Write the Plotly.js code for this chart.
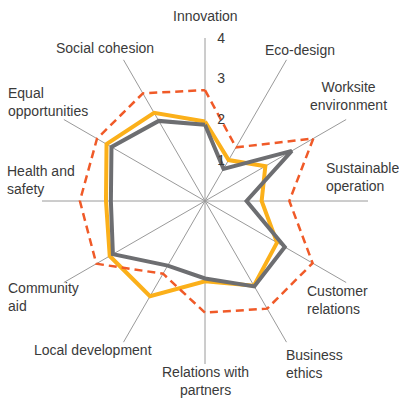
<!DOCTYPE html>
<html>
<head>
<meta charset="utf-8">
<script src="https://cdn.plot.ly/plotly-3.0.1.min.js"></script>
<style>html,body{margin:0;padding:0;background:#fff;}#chart{width:399px;height:399px;}</style>
</head>
<body>
<div id="chart"></div>
<script>
const categories = ["Innovation", "Eco-design", "Worksite environment", "Sustainable operation",
  "Customer relations", "Business ethics", "Relations with partners", "Local development",
  "Community aid", "Health and safety", "Equal opportunities", "Social cohesion"];
const labelText = ["Innovation", "Eco-design", "Worksite<br>environment", "Sustainable<br>operation",
  "Customer<br>relations", "Business<br>ethics", "Relations with<br>partners", "Local development",
  "Community<br>aid", "Health and<br>safety", "Equal<br>opportunities", "Social cohesion"];
const targetValues = [2.72, 1.52, 3.07, 2.07, 3.05, 3.05, 2.74, 2.06, 3.08, 3.07, 3.06, 3.05];
const orangeValues = [1.95, 1.16, 1.71, 1.39, 2.04, 2.40, 1.97, 2.70, 2.70, 2.43, 2.79, 2.50];
const grayValues   = [1.87, 0.91, 2.46, 1.02, 2.26, 2.42, 1.90, 1.83, 2.61, 2.31, 2.65, 2.27];
const radialTicks = [1, 2, 3, 4];

// category label placement in pixels (anchor point) and anchoring
const labelX = [205, 300, 348, 325, 306, 285, 205, 93, 7, 6, 7, 105];
const labelY = [16, 50, 96, 177, 300, 364, 381, 350, 297, 180, 102, 48];
const labelXAnchor = ["center", "center", "center", "left", "left", "left", "center", "center", "left", "left", "left", "center"];

function closed(a){ return a.concat([a[0]]); }

const W = 399, H = 399;
const fam = "'Liberation Sans', Arial, sans-serif";
const font = {family: fam, size: 14, color: "#3a3a3a"};

const traces = [
  {type: "scatterpolar", r: closed(orangeValues), theta: closed(categories), mode: "lines",
   line: {color: "#FBB01A", width: 4}, hoverinfo: "skip"},
  {type: "scatterpolar", r: closed(grayValues), theta: closed(categories), mode: "lines",
   line: {color: "#6D6E71", width: 4}, hoverinfo: "skip"},
  {type: "scatterpolar", r: closed(targetValues), theta: closed(categories), mode: "lines",
   line: {color: "#F05A28", width: 2.5, dash: "8px,5px"}, hoverinfo: "skip"}
];

const annotations = labelText.map((t, i) => ({
  text: t, xref: "paper", yref: "paper", x: labelX[i] / W, y: 1 - labelY[i] / H,
  xanchor: labelXAnchor[i], yanchor: "middle", align: labelXAnchor[i] === "left" ? "left" : "center",
  showarrow: false, font: font, borderpad: 0
}));

const layout = {
  width: W, height: H,
  margin: {l: 0, r: 0, t: 0, b: 0},
  paper_bgcolor: "#fff",
  showlegend: false,
  font: font,
  annotations: annotations,
  polar: {
    domain: {x: [42/W, 368/W], y: [1 - 364/H, 1 - 38/H]},
    bgcolor: "rgba(0,0,0,0)",
    radialaxis: {
      range: [0, 4], tickvals: radialTicks, ticktext: radialTicks.map(String),
      angle: 90, tickangle: 90, side: "clockwise", showline: false, showgrid: false,
      ticks: "outside", ticklen: 9, tickcolor: "rgba(0,0,0,0)",
      tickfont: font
    },
    angularaxis: {
      direction: "clockwise", rotation: 90, type: "category",
      showline: false, showgrid: true, gridcolor: "#9a9a9a", gridwidth: 1,
      ticks: "", showticklabels: false
    }
  }
};

Plotly.newPlot("chart", traces, layout, {staticPlot: true});
</script>
</body>
</html>
